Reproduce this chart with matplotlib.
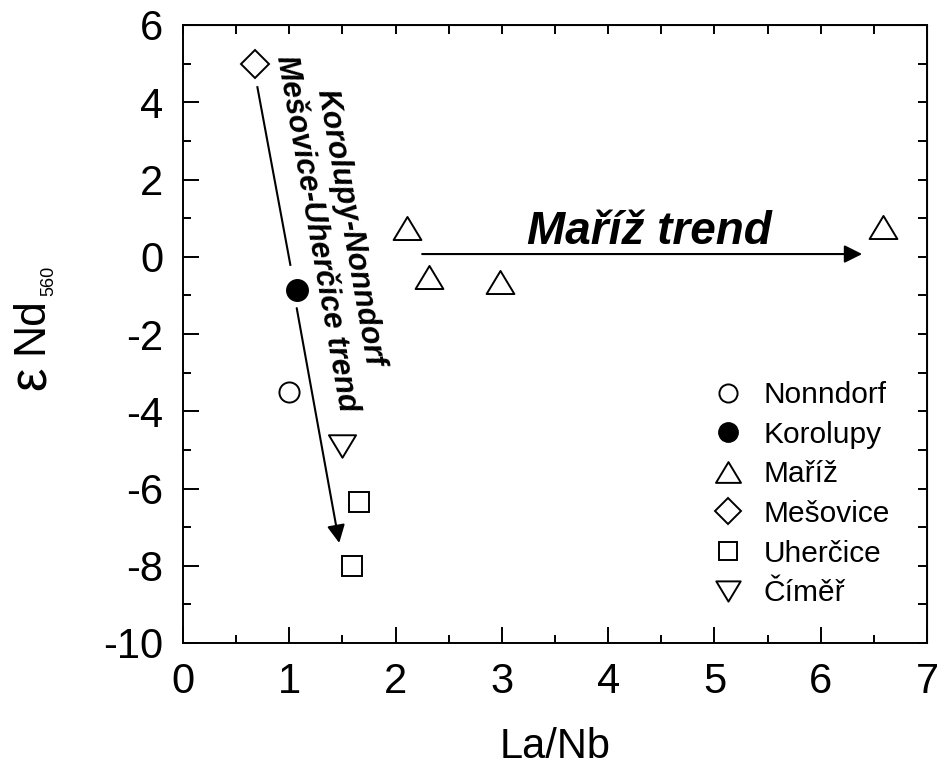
import matplotlib
matplotlib.use("Agg")
import matplotlib.pyplot as plt
from matplotlib.path import Path
from matplotlib.ticker import MultipleLocator

plt.rcParams['font.family'] = ['Liberation Sans', 'DejaVu Sans']
plt.rcParams['mathtext.default'] = 'regular'
plt.rcParams['axes.unicode_minus'] = False

# data (La/Nb vs eps Nd560)
nonndorf_x = [1.00]
nonndorf_y = [-3.50]
korolupy_x = [1.07]
korolupy_y = [-0.86]
mariz_x = [2.11, 2.31, 2.98, 6.59]
mariz_y = [0.74, -0.52, -0.65, 0.77]
mesovice_x = [0.68]
mesovice_y = [5.00]
uhercice_x = [1.66, 1.59]
uhercice_y = [-6.35, -8.00]
cimer_x = [1.50]
cimer_y = [-4.91]

labels = ["Nonndorf", "Korolupy", "Ma\u0159\u00ed\u017e", "Me\u0161ovice",
          "Uher\u010dice", "\u010c\u00edm\u011b\u0159"]

# trend arrows (start, end) in data units
trend1_a = [(0.70, 4.39), (1.01, -0.21)]
trend1_b = [(1.07, -1.33), (1.47, -7.41)]
trend2 = [(2.25, 0.07), (6.39, 0.07)]

xticks = [0, 1, 2, 3, 4, 5, 6, 7]
yticks = [-10, -8, -6, -4, -2, 0, 2, 4, 6]

fig = plt.figure(figsize=(9.39, 7.72), dpi=100)
ax = fig.add_axes([183/939, 129/772, 744/939, 618/772])

codes = [Path.MOVETO, Path.LINETO, Path.LINETO, Path.CLOSEPOLY]
tri_up = Path([(-1, -0.83), (1, -0.83), (0, 0.83), (-1, -0.83)], codes)
tri_dn = Path([(-1, 0.83), (1, 0.83), (0, -0.83), (-1, 0.83)], codes)
mk = dict(color='none', markeredgecolor='black', markerfacecolor='white',
          markeredgewidth=1.4, linestyle='none')

ax.plot(nonndorf_x, nonndorf_y, marker='o', markersize=14.5, label=labels[0], **mk)
ax.plot(korolupy_x, korolupy_y, marker='o', markersize=15.5, label=labels[1],
        color='none', markeredgecolor='black', markerfacecolor='black', linestyle='none')
ax.plot(mariz_x, mariz_y, marker=tri_up, markersize=20, label=labels[2], **mk)
ax.plot(mesovice_x, mesovice_y, marker='D', markersize=14.5, label=labels[3], **mk)
ax.plot(uhercice_x, uhercice_y, marker='s', markersize=14.5, label=labels[4], **mk)
ax.plot(cimer_x, cimer_y, marker=tri_dn, markersize=19.5, label=labels[5], **mk)

# arrows
ax.plot([trend1_a[0][0], trend1_a[1][0]], [trend1_a[0][1], trend1_a[1][1]],
        color='black', lw=1.5)
arrow = dict(arrowstyle='-|>,head_length=0.4,head_width=0.2', mutation_scale=27,
             color='black', lw=1.5, shrinkA=0, shrinkB=0)
ax.annotate('', xy=trend1_b[1], xytext=trend1_b[0], arrowprops=arrow)
ax.annotate('', xy=trend2[1], xytext=trend2[0], arrowprops=arrow)

ax.text(1.41, 0.68, "Korolupy-Nonndorf\nMe\u0161ovice-Uher\u010dice trend",
        rotation=-80, rotation_mode='anchor', ha='center', va='center',
        multialignment='center', fontsize=22, fontweight='bold', fontstyle='italic')
ax.text(4.39, 0.33, "Ma\u0159\u00ed\u017e trend", ha='center', va='baseline',
        fontsize=33, fontweight='bold', fontstyle='italic')

ax.set_xlim(0, 7)
ax.set_ylim(-10, 6)
ax.set_xticks(xticks)
ax.set_yticks(yticks)
ax.xaxis.set_minor_locator(MultipleLocator(0.5))
ax.yaxis.set_minor_locator(MultipleLocator(1))
ax.tick_params(which='major', direction='in', length=11.5, width=1.4,
               labelsize=30, pad=14)
ax.tick_params(which='minor', direction='in', length=6, width=1.4)
for s in ax.spines.values():
    s.set_linewidth(1.4)

# short ticks on top and right
top = ax.secondary_xaxis('top')
top.set_xticks(xticks)
top.xaxis.set_minor_locator(MultipleLocator(0.5))
top.tick_params(which='both', direction='in', length=6.5, width=1.4, labeltop=False)
right = ax.secondary_yaxis('right')
right.set_yticks(yticks)
right.yaxis.set_minor_locator(MultipleLocator(1))
right.tick_params(which='both', direction='in', length=6.5, width=1.4, labelright=False)

ax.set_xlabel("La/Nb", fontsize=30, labelpad=18)

# y label: eps Nd_560
fig.text(32/939, 1 - 378/772, "\u03b5", rotation=90, fontsize=38, ha='center', va='center')
fig.text(31/939, 1 - 326/772, "Nd", rotation=90, fontsize=32, ha='center', va='center')
fig.text(49/939, 1 - 281/772, "560", rotation=90, fontsize=13, ha='center', va='center')

ax.legend(loc='upper left', bbox_to_anchor=(713/939, 1 - 381/772),
          bbox_transform=fig.transFigure, frameon=False, fontsize=21.5,
          borderpad=0, borderaxespad=0, handlelength=1.0, handletextpad=0.7,
          labelspacing=0.39, markerscale=0.9)

fig.savefig("out.png", dpi=100)
